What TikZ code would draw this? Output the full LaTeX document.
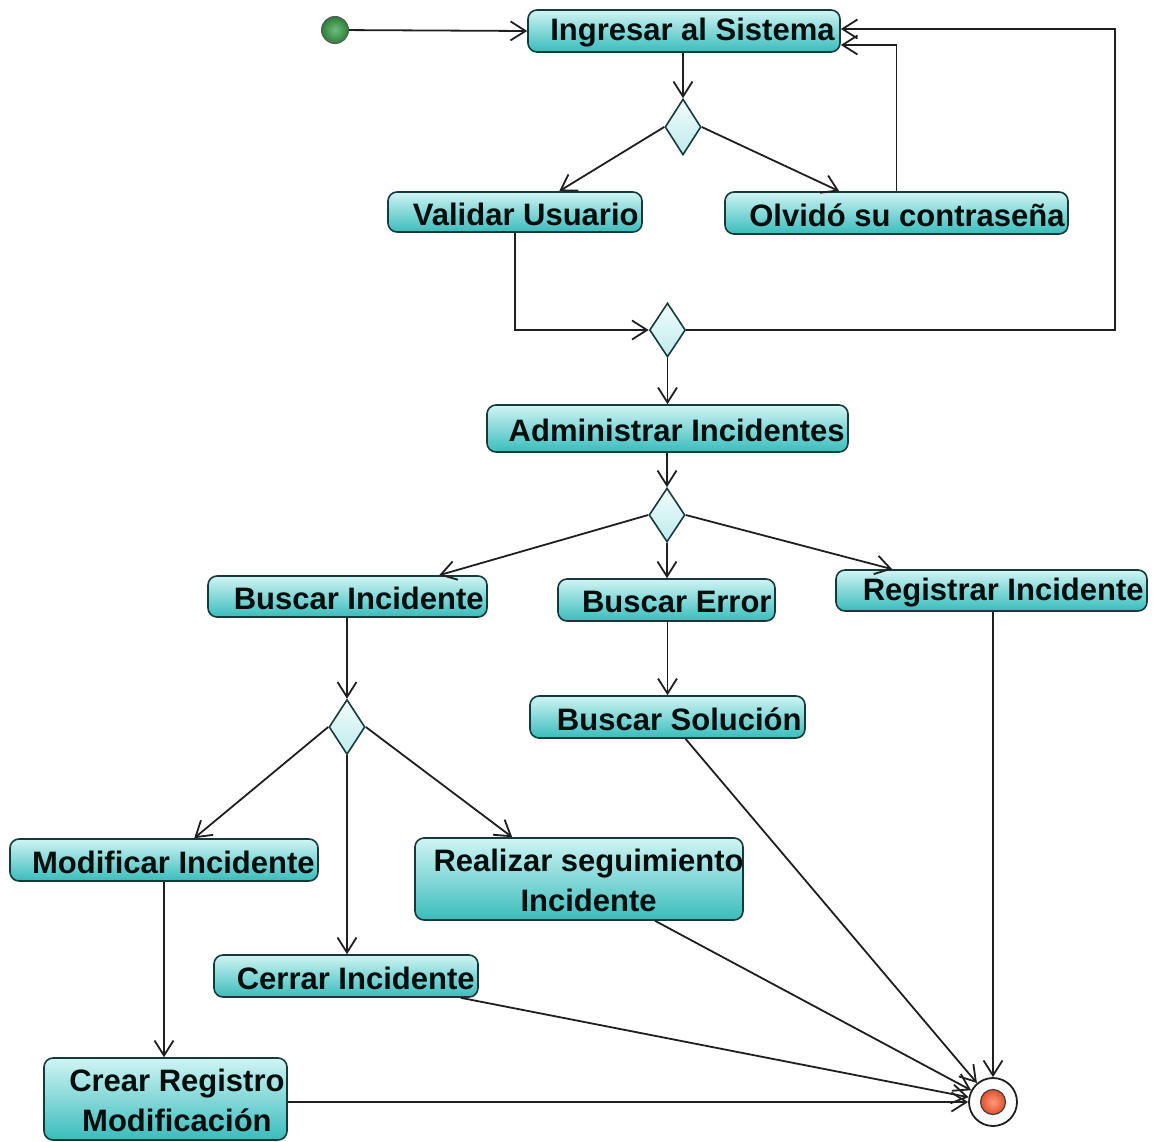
\documentclass[tikz,border=0pt]{standalone}
\usepackage{fontspec}
\setmainfont{Liberation Sans}
\usetikzlibrary{shapes.geometric,arrows.meta,calc}
\definecolor{boxtop}{HTML}{D0F4F4}
\definecolor{boxbot}{HTML}{3ABCBC}
\definecolor{edgedark}{HTML}{163A3A}
\definecolor{diatop}{HTML}{F2FCFC}
\definecolor{diabot}{HTML}{BDEBEB}
\definecolor{greenin}{HTML}{6CC07A}
\definecolor{greenout}{HTML}{2E7D3A}
\definecolor{redin}{HTML}{FF9A7A}
\definecolor{redout}{HTML}{E0502E}

\begin{document}
\begin{tikzpicture}[x=1pt,y=-1pt,
  act/.style={draw=edgedark, line width=1.6pt, rounded corners=9pt,
    top color=boxtop, bottom color=boxbot, inner sep=0pt},
  lbl/.style={font=\fontsize{31}{40}\selectfont\bfseries, text=black!90!teal,
    inner sep=0pt, align=center},
  dec/.style={diamond, draw=edgedark, line width=1.6pt, top color=diatop,
    bottom color=diabot, inner sep=0pt, minimum width=36pt},
  flow/.style={draw=black!88, line width=1.8pt,
    -{Straight Barb[length=15pt,width=19pt,line width=1.8pt]}},
]
\useasboundingbox (0,0) rectangle (1153,1142);

% initial and final states
\node[circle, draw=black!65, line width=1pt, inner color=greenin, outer color=greenout,
  minimum size=27pt, inner sep=0pt] (start) at (335,30) {};
\node[circle, draw=black!88, line width=1.8pt, fill=white,
  minimum size=48pt, inner sep=0pt] (fin) at (993,1102) {};
\node[circle, draw=black!75, line width=1.2pt, inner color=redin, outer color=redout,
  minimum size=25pt, inner sep=0pt] (finin) at (fin) {};

% activities
\node[act, minimum width=312pt, minimum height=42pt] (ing) at (684,31) {};
\node[act, minimum width=254pt, minimum height=40pt] (val) at (515,212) {};
\node[act, minimum width=343pt, minimum height=42pt] (olv) at (896.5,213) {};
\node[act, minimum width=361pt, minimum height=47pt] (adm) at (667.5,428.5) {};
\node[act, minimum width=279pt, minimum height=41pt] (bus) at (347.5,596.5) {};
\node[act, minimum width=217pt, minimum height=42pt] (err) at (666.5,600) {};
\node[act, minimum width=311pt, minimum height=41pt] (reg) at (991.5,590.5) {};
\node[act, minimum width=275pt, minimum height=42pt] (sol) at (667.5,717) {};
\node[act, minimum width=308pt, minimum height=42pt] (mod) at (164,860) {};
\node[act, minimum width=328pt, minimum height=82pt] (rea) at (579,879) {};
\node[act, minimum width=264pt, minimum height=42pt] (cer) at (346,976) {};
\node[act, minimum width=243pt, minimum height=82pt] (cre) at (165.5,1099) {};

% activity texts, set against the right edge of each box
\node[lbl, anchor=east] (tIng) at ([xshift=-6pt,yshift=-2pt]ing.east) {Ingresar al Sistema};
\node[lbl, anchor=east] (tVal) at ([xshift=-4pt,yshift=-2pt]val.east) {Validar Usuario};
\node[lbl, anchor=east] (tOlv) at ([xshift=-4pt,yshift=-2pt]olv.east) {Olvidó su contraseña};
\node[lbl, anchor=east] (tAdm) at ([xshift=-4pt,yshift=-2pt]adm.east) {Administrar Incidentes};
\node[lbl, anchor=east] (tBus) at ([xshift=-4pt,yshift=-2pt]bus.east) {Buscar Incidente};
\node[lbl, anchor=east] (tErr) at ([xshift=-4pt,yshift=-2pt]err.east) {Buscar Error};
\node[lbl, anchor=east] (tReg) at ([xshift=-4pt,yshift=-2pt]reg.east) {Registrar Incidente};
\node[lbl, anchor=east] (tSol) at ([xshift=-4pt,yshift=-2pt]sol.east) {Buscar Solución};
\node[lbl, anchor=east] (tMod) at ([xshift=-4pt,yshift=-2pt]mod.east) {Modificar Incidente};
\node[lbl, anchor=east] (tRea) at ([xshift=0pt,yshift=-1pt]rea.east) {Realizar seguimiento\\Incidente};
\node[lbl, anchor=east] (tCre) at ([xshift=-3pt,yshift=-1pt]cre.east) {Crear Registro\\Modificación};
\node[lbl, anchor=east] (tCer) at ([xshift=-4pt,yshift=-2pt]cer.east) {Cerrar Incidente};

% decision nodes
\node[dec, minimum height=56pt] (d1) at (683,127) {};
\node[dec, minimum height=54pt] (d2) at (667.5,330) {};
\node[dec, minimum height=54pt] (d3) at (667,515) {};
\node[dec, minimum height=55pt] (d4) at (347,727) {};

% login flow
\draw[flow] (start) -- (ing.west);
\draw[flow] (ing.south -| d1.north) -- (d1.north);
\draw[flow] (d1.west) -- ($(val.north west)+(172,0)$);
\draw[flow] (d1.east) -- ($(olv.north west)+(115,0)$);
\draw[flow] (olv.north) |- ($(ing.east)+(0,14)$);
\draw[flow] (val.south) |- (d2.west);
\draw[flow] (d2.east) -- (1115,330) |- ($(ing.east)+(0,-2)$);
\draw[flow] (d2.south) -- (adm.north -| d2.south);

% incident management
\draw[flow] (adm.south -| d3.north) -- (d3.north);
\draw[flow] (d3.west) -- ($(bus.north west)+(232,0)$);
\draw[flow] (d3.south) -- (err.north -| d3.south);
\draw[flow] (d3.east) -- ($(reg.north west)+(57,0)$);
\draw[flow] (err.south -| sol.north) -- (sol.north);
\draw[flow] (bus.south -| d4.north) -- (d4.north);
\draw[flow] (d4.west) -- ($(mod.north west)+(185,0)$);
\draw[flow] (d4.south) -- (cer.north -| d4.south);
\draw[flow] (d4.east) -- ($(rea.north west)+(98,0)$);
\draw[flow] (mod.south) -- (cre.north -| mod.south);

% towards the final state
\draw[flow] (cre.east |- fin) -- (fin.west);
\draw[flow] ($(cer.south east)+(-18,0)$) -- (fin);
\draw[flow] ($(rea.south)+(76,0)$) -- (fin);
\draw[flow] ($(sol.south)+(18,0)$) -- (fin);
\draw[flow] (reg.south -| fin.north) -- (fin.north);
\end{tikzpicture}
\end{document}
